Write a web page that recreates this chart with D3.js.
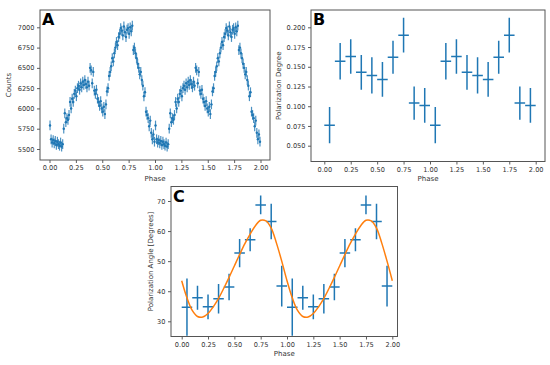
<!DOCTYPE html>
<html><head><meta charset="utf-8">
<script src="https://cdn.jsdelivr.net/npm/d3@7"></script>
<style>body{margin:0;background:#fff}svg{display:block}text{font-family:"DejaVu Sans",sans-serif}</style>
</head><body>
<script>
// ---------- DATA ----------
const phaseTicks = [0, 0.25, 0.5, 0.75, 1.0, 1.25, 1.5, 1.75, 2.0];

// Panel A: light curve, one cycle (phase bins 0.005 ... 0.995), shown twice
const countsCycle = [5790,5620,5580,5610,5570,5600,5550,5590,5560,5540,
  5580,5530,5560,5750,5940,5830,5880,5860,5920,6080,
  6000,6120,6080,6180,6220,6150,6250,6280,6230,6310,
  6260,6330,6290,6350,6300,6260,6330,6280,6500,6470,
  6310,6450,6220,6180,6230,6120,6080,6030,6090,6000,
  5960,6020,5930,6050,6210,6250,6400,6450,6520,6620,
  6580,6680,6750,6820,6780,6880,6920,6990,6960,6900,
  7010,6940,6880,6970,6990,6920,7000,6950,7020,6720,
  6750,6680,6620,6550,6500,6420,6450,6350,6280,6150,
  6200,5960,5920,5880,5780,5850,5700,5620,5680,5590];
const countsErr = 60;
const countsTicks = [5500, 5750, 6000, 6250, 6500, 6750, 7000];

// Panel B: polarization degree
const binPhase = [0.05,0.15,0.25,0.35,0.45,0.55,0.65,0.75,0.85,0.95,
                  1.05,1.15,1.25,1.35,1.45,1.55,1.65,1.75,1.85,1.95];
const degValues = [0.076,0.157,0.163,0.143,0.139,0.134,0.162,0.190,0.104,0.101,
                   0.076,0.157,0.163,0.143,0.139,0.134,0.162,0.190,0.104,0.101];
const degErr = [0.023,0.023,0.022,0.022,0.023,0.022,0.021,0.022,0.021,0.022,
                0.023,0.023,0.022,0.022,0.023,0.022,0.021,0.022,0.021,0.022];
const degTicks = [0.050, 0.075, 0.100, 0.125, 0.150, 0.175, 0.200];

// Panel C: polarization angle
const angValues = [34.7,37.8,34.8,37.5,41.4,52.7,57.1,68.7,63.2,41.7,
                   34.7,37.8,34.8,37.5,41.4,52.7,57.1,68.7,63.2,41.7];
const angErr = [9.5,4.0,4.1,4.9,4.4,4.7,3.8,3.1,5.9,6.8,
                9.5,4.0,4.1,4.9,4.4,4.7,3.8,3.1,5.9,6.8];
const angTicks = [30, 40, 50, 60, 70];
const fitPhase = [0,0.05,0.1,0.15,0.2,0.25,0.3,0.35,0.4,0.45,0.5,0.55,0.6,0.65,0.7,0.75,0.8,0.85,0.9,0.95,
                  1,1.05,1.1,1.15,1.2,1.25,1.3,1.35,1.4,1.45,1.5,1.55,1.6,1.65,1.7,1.75,1.8,1.85,1.9,1.95,2];
const fitValues = [43.5,37.8,33.6,31.6,31.4,32.6,34.8,37.6,41.0,44.6,48.4,52.2,55.8,59.0,61.8,63.6,63.4,61.0,56.0,50.0,
                   43.5,37.8,33.6,31.6,31.4,32.6,34.8,37.6,41.0,44.6,48.4,52.2,55.8,59.0,61.8,63.6,63.4,61.0,56.0,50.0,43.5];

// ---------- DRAW ----------
const blue = "#1f77b4", orange = "#ff7f0e";
const svg = d3.select("body").append("svg").attr("width", 550).attr("height", 365)
  .style("background", "#fff");

function panel(cfg) {
  const g = svg.append("g");
  const x = d3.scaleLinear().domain([0, 2]).range(cfg.xr);
  const y = d3.scaleLinear().domain(cfg.yd).range(cfg.yr);
  const f = cfg.frame; // [l, t, r, b]
  const clipId = "clip" + cfg.letter;
  svg.append("clipPath").attr("id", clipId).append("rect")
    .attr("x", f[0]).attr("y", f[1]).attr("width", f[2] - f[0]).attr("height", f[3] - f[1]);
  const plot = g.append("g").attr("clip-path", `url(#${clipId})`);

  const ax = g.append("g").attr("transform", `translate(0,${f[3]})`)
    .call(d3.axisBottom(x).tickValues(phaseTicks).tickFormat(d3.format(".2f")).tickSize(3).tickPadding(2.5));
  const ay = g.append("g").attr("transform", `translate(${f[0]},0)`)
    .call(d3.axisLeft(y).tickValues(cfg.yTicks).tickFormat(cfg.yFmt).tickSize(3).tickPadding(2.5));
  [ax, ay].forEach(a => {
    a.select(".domain").remove();
    a.selectAll("line").attr("stroke", "#333").attr("stroke-width", 0.8);
    a.selectAll("text").attr("font-size", 6.6).attr("fill", "#333").attr("font-family", "DejaVu Sans");
  });

  g.append("text").attr("x", (f[0] + f[2]) / 2).attr("y", cfg.xlabY)
    .attr("text-anchor", "middle").attr("font-size", 7).attr("fill", "#333").text("Phase");
  g.append("text").attr("transform", `translate(${cfg.ylabX},${(f[1] + f[3]) / 2}) rotate(-90)`)
    .attr("text-anchor", "middle").attr("font-size", 7).attr("fill", "#333").text(cfg.ylab);

  cfg.draw(plot, x, y);

  g.append("rect").attr("x", f[0]).attr("y", f[1]).attr("width", f[2] - f[0]).attr("height", f[3] - f[1])
    .attr("fill", "none").attr("stroke", "#555").attr("stroke-width", 1);
  g.append("text").attr("x", f[0] + 2).attr("y", f[1] + 15)
    .attr("font-family", "'Liberation Sans Narrow','Liberation Sans',Arial,sans-serif")
    .attr("font-weight", "bold").attr("font-size", 16).attr("fill", "#000").text(cfg.letter);
}

function crosses(plot, x, y, px, vals, errs, xe) {
  const d = px.map((p, i) => ({p, v: vals[i], e: errs[i]}));
  plot.selectAll(null).data(d).enter().append("line")
    .attr("x1", d => x(d.p)).attr("x2", d => x(d.p))
    .attr("y1", d => y(d.v - d.e)).attr("y2", d => y(d.v + d.e))
    .attr("stroke", blue).attr("stroke-width", 1.5);
  plot.selectAll(null).data(d).enter().append("line")
    .attr("x1", d => x(d.p - xe)).attr("x2", d => x(d.p + xe))
    .attr("y1", d => y(d.v)).attr("y2", d => y(d.v))
    .attr("stroke", blue).attr("stroke-width", 1.5);
}

// Panel A
panel({
  letter: "A", frame: [40, 10, 270, 160], xr: [49.5, 260.5], yd: [5500, 7000], yr: [149, 27.3],
  yTicks: countsTicks, yFmt: d3.format("d"), ylab: "Counts", ylabX: 11, xlabY: 180.5,
  draw: (plot, x, y) => {
    const pts = [];
    [0, 1].forEach(c => countsCycle.forEach((v, i) => pts.push({p: c + 0.005 + 0.01 * i, v})));
    plot.selectAll(null).data(pts).enter().append("line")
      .attr("x1", d => x(d.p)).attr("x2", d => x(d.p))
      .attr("y1", d => y(d.v - countsErr)).attr("y2", d => y(d.v + countsErr))
      .attr("stroke", blue).attr("stroke-width", 1.2).attr("stroke-opacity", 0.8);
    plot.selectAll(null).data(pts).enter().append("line")
      .attr("x1", d => x(d.p - 0.006)).attr("x2", d => x(d.p + 0.006))
      .attr("y1", d => y(d.v)).attr("y2", d => y(d.v))
      .attr("stroke", blue).attr("stroke-width", 1.2);
    plot.selectAll(null).data(pts).enter().append("circle")
      .attr("cx", d => x(d.p)).attr("cy", d => y(d.v)).attr("r", 1.2).attr("fill", blue);
  }
});

// Panel B
panel({
  letter: "B", frame: [311, 10, 545, 161.5], xr: [324.3, 535.7], yd: [0.05, 0.2], yr: [145.7, 27.3],
  yTicks: degTicks, yFmt: d3.format(".3f"), ylab: "Polarization Degree", ylabX: 281, xlabY: 180.5,
  draw: (plot, x, y) => crosses(plot, x, y, binPhase, degValues, degErr, 0.05)
});

// Panel C
panel({
  letter: "C", frame: [171, 186.5, 397.5, 336.5], xr: [181.7, 392.3], yd: [30, 70], yr: [321.3, 201],
  yTicks: angTicks, yFmt: d3.format("d"), ylab: "Polarization Angle [Degrees]", ylabX: 153, xlabY: 356,
  draw: (plot, x, y) => {
    crosses(plot, x, y, binPhase, angValues, angErr, 0.05);
    const line = d3.line().x(d => x(d[0])).y(d => y(d[1])).curve(d3.curveCatmullRom);
    plot.append("path").datum(fitPhase.map((p, i) => [p, fitValues[i]]))
      .attr("d", line).attr("fill", "none").attr("stroke", orange).attr("stroke-width", 1.5);
  }
});
</script>
</body></html>
